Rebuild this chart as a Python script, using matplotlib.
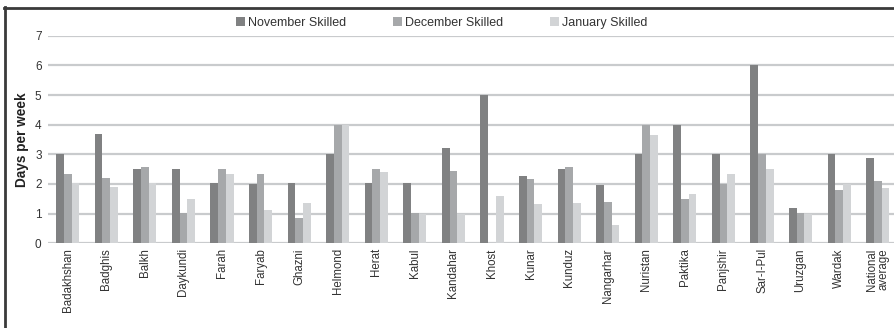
import numpy as np
import matplotlib.pyplot as plt
from matplotlib.lines import Line2D

plt.rcParams['font.family'] = ['Liberation Sans', 'DejaVu Sans']

provinces = ["Badakhshan", "Badghis", "Balkh", "Daykundi", "Farah", "Faryab",
             "Ghazni", "Helmond", "Herat", "Kabul", "Kandahar", "Khost",
             "Kunar", "Kunduz", "Nangarhar", "Nuristan", "Paktika", "Panjshir",
             "Sar-I-Pul", "Uruzgan", "Wardak", "National\naverage"]

november = [3.0, 3.7, 2.5, 2.5, 2.03, 2.0, 2.03, 3.0, 2.03, 2.03, 3.2, 5.0,
            2.27, 2.5, 1.97, 3.0, 4.0, 3.0, 6.0, 1.2, 3.0, 2.88]
december = [2.34, 2.2, 2.57, 1.02, 2.5, 2.34, 0.84, 4.0, 2.5, 1.02, 2.44, 0.0,
            2.17, 2.57, 1.39, 4.0, 1.5, 2.0, 3.0, 1.02, 1.8, 2.1]
january = [2.03, 1.9, 2.03, 1.5, 2.34, 1.12, 1.36, 4.0, 2.4, 0.98, 0.98, 1.6,
           1.33, 1.36, 0.62, 3.65, 1.66, 2.34, 2.5, 0.98, 2.0, 1.87]

series = [("November Skilled", november, "#808182"),
          ("December Skilled", december, "#a6a8aa"),
          ("January Skilled", january, "#d2d4d6")]

fig = plt.figure(figsize=(8.95, 3.28), dpi=100)
ax = fig.add_axes([48.5 / 895, 1 - 243.3 / 328, (897 - 48.5) / 895, (243.3 - 35.7) / 328])

x = np.arange(len(provinces))
w = 0.2
for i, (name, vals, col) in enumerate(series):
    ax.bar(x + (i - 1) * w, vals, width=w, color=col, label=name, zorder=3)

ax.set_ylim(0, 7)
ax.set_xlim(-0.5, len(provinces) - 0.5)
ax.set_yticks(range(8))
ax.yaxis.grid(True, color="#c9cbcd", linewidth=1.6, zorder=0)
ax.set_axisbelow(True)
for s in ax.spines.values():
    s.set_visible(False)
ax.tick_params(length=0, colors="#333333")
ax.tick_params(axis="y", pad=5, labelsize=8.5)
ax.set_xticks(x)
ax.set_xticklabels(provinces, rotation=90, fontsize=8.3, linespacing=0.85)
ax.set_ylabel("Days per week", fontsize=9.8, fontweight="bold", color="#222222", labelpad=4)

fig.legend(loc="center", bbox_to_anchor=(442 / 895, 1 - 23 / 328), ncol=3,
           frameon=False, fontsize=9, labelcolor="#333333",
           handlelength=0.72, handleheight=0.72,
           handletextpad=0.25, columnspacing=3.75, borderaxespad=0)

# border at top and left of the figure
fig.add_artist(Line2D([4 / 895, 1], [1 - 7.5 / 328, 1 - 7.5 / 328],
                      transform=fig.transFigure, color="#3a3a3a", linewidth=2))
fig.add_artist(Line2D([5 / 895, 5 / 895], [0, 1 - 7 / 328],
                      transform=fig.transFigure, color="#3a3a3a", linewidth=2))

fig.savefig("out.png", dpi=100)
